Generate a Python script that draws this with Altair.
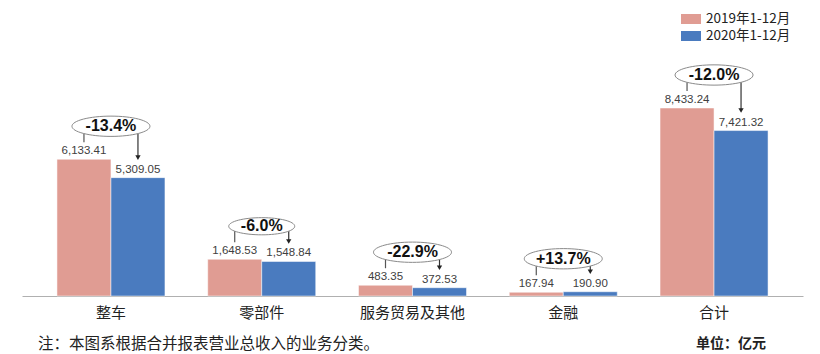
import altair as alt
import pandas as pd

categories = ["整车", "零部件", "服务贸易及其他", "金融", "合计"]
series_names = ["2019年1-12月", "2020年1-12月"]
v2019 = [6133.41, 1648.53, 483.35, 167.94, 8433.24]
v2020 = [5309.05, 1548.84, 372.53, 190.90, 7421.32]
changes = ["-13.4%", "-6.0%", "-22.9%", "+13.7%", "-12.0%"]

PINK = "#E09C93"
BLUE = "#4A7BBF"
CJK = "Noto Sans CJK SC"
NUM = "Liberation Sans"

long_df = pd.DataFrame({
    "category": categories * 2,
    "series": [series_names[0]] * len(categories) + [series_names[1]] * len(categories),
    "value": v2019 + v2020,
})
wide_df = pd.DataFrame({"category": categories, "v2019": v2019, "v2020": v2020, "change": changes})
wide_df["ymax"] = wide_df[["v2019", "v2020"]].max(axis=1)
wide_df["ell"] = [(12 * len(c) + 6) ** 2 for c in changes]

x_enc = alt.X("category:N", sort=categories,
              scale=alt.Scale(paddingInner=0, paddingOuter=0.09),
              axis=alt.Axis(title=None, labelAngle=0, ticks=False, domainColor="#b0b0b0",
                            domainWidth=1, labelFontSize=15, labelFont=CJK, labelColor="#222222",
                            labelPadding=9))
y_scale = alt.Scale(domain=[0, 12380], nice=False, zero=True)

bars = alt.Chart(long_df).mark_bar(stroke="white", strokeWidth=0.5).encode(
    x=x_enc,
    xOffset=alt.XOffset("series:N", sort=series_names,
                        scale=alt.Scale(paddingInner=0, paddingOuter=0.396)),
    y=alt.Y("value:Q", scale=y_scale, axis=None),
    color=alt.Color("series:N", sort=series_names,
                    scale=alt.Scale(domain=series_names, range=[PINK, BLUE]),
                    legend=alt.Legend(title=None, orient="none", legendX=659, legendY=-11,
                                      symbolType="M-1,-0.5L1,-0.5L1,0.5L-1,0.5Z",
                                      symbolSize=400, symbolStrokeWidth=0,
                                      labelFont=CJK, labelFontSize=13.5, labelColor="#222222",
                                      rowPadding=0, labelOffset=5)),
)

base = alt.Chart(wide_df).encode(x=alt.X("category:N", sort=categories))

lab19 = base.mark_text(font=NUM, fontSize=11.5, color="#404040", baseline="bottom", xOffset=-27, dy=-3).encode(
    y=alt.Y("v2019:Q", scale=y_scale), text=alt.Text("v2019:Q", format=",.2f"))
lab20 = base.mark_text(font=NUM, fontSize=11.5, color="#404040", baseline="bottom", xOffset=27, dy=-3).encode(
    y=alt.Y("v2020:Q", scale=y_scale), text=alt.Text("v2020:Q", format=",.2f"))

tick19 = base.mark_rule(color="#555555", strokeWidth=1.2, xOffset=-27, yOffset=-33, y2Offset=-17).encode(
    y=alt.Y("ymax:Q", scale=y_scale), y2="v2019:Q")
arrow20 = base.mark_rule(color="#333333", strokeWidth=1.2, xOffset=27, yOffset=-33, y2Offset=-21).encode(
    y=alt.Y("ymax:Q", scale=y_scale), y2="v2020:Q")
head20 = base.mark_point(shape="triangle-down", filled=True, color="#222222", size=28, opacity=1,
                         xOffset=27, yOffset=-20).encode(
    y=alt.Y("v2020:Q", scale=y_scale))

ellipse = base.mark_point(shape="M-1,0A1,0.26,0,1,0,1,0A1,0.26,0,1,0,-1,0Z",
                          filled=True, fill="white", stroke="#8a8a8a", strokeWidth=1,
                          opacity=1, fillOpacity=1, yOffset=-33).encode(
    y=alt.Y("ymax:Q", scale=y_scale), size=alt.Size("ell:Q", scale=None, legend=None))
pct = base.mark_text(font=NUM, fontSize=16, fontWeight="bold", color="#111111",
                     baseline="middle", yOffset=-33).encode(
    y=alt.Y("ymax:Q", scale=y_scale), text="change:N")

note = alt.Chart(pd.DataFrame({"t": ["注：本图系根据合并报表营业总收入的业务分类。"]})).mark_text(
    font=CJK, fontSize=15.5, color="#222222", align="left", baseline="middle").encode(
    x=alt.value(16), y=alt.value(324), text="t:N")
unit = alt.Chart(pd.DataFrame({"t": ["单位：亿元"]})).mark_text(
    font=CJK, fontSize=14, fontWeight="bold", color="#222222", align="right", baseline="middle").encode(
    x=alt.value(744), y=alt.value(324), text="t:N")

chart = alt.layer(bars, lab19, lab20, tick19, arrow20, head20, ellipse, pct, note, unit).properties(
    width=781, height=276,
    padding={"left": 22, "top": 20, "right": 17, "bottom": 58},
    autosize=alt.AutoSizeParams(type="none"),
    background="white",
).configure_view(stroke=None)

chart.save("out.html", embed_options={"renderer": "svg", "actions": False})
